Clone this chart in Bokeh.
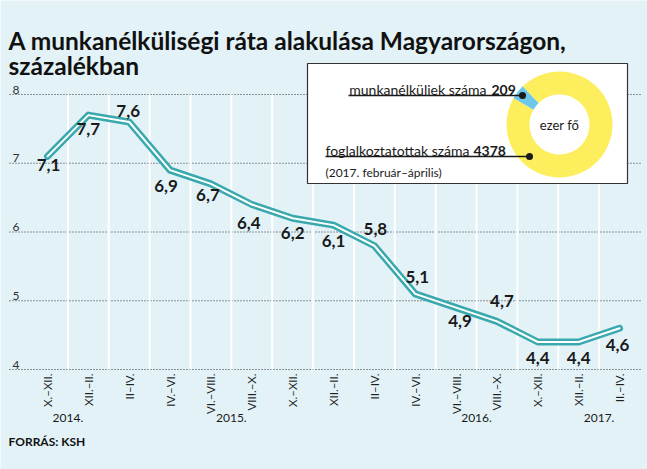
import math
from bokeh.plotting import figure
from bokeh.models import Range1d, ColumnDataSource
from bokeh.core.properties import value
from bokeh.embed import file_html
from bokeh.resources import INLINE

# ---------------- data ----------------
periods = ["X.–XII.", "XII.–II.", "II–IV.", "IV.–VI.", "VI.–VIII.", "VIII.–X.", "X.–XII.",
           "XII.–II.", "II–IV.", "IV.–VI.", "VI.–VIII.", "VIII.–X.", "X.–XII.", "XII.–II.", "II.–IV."]
rates = [7.1, 7.7, 7.6, 6.9, 6.7, 6.4, 6.2, 6.1, 5.8, 5.1, 4.9, 4.7, 4.4, 4.4, 4.6]
years = ["2014.", "2015.", "2016.", "2017."]
year_pos = [0.5, 4.5, 10.5, 13.5]
y_ticks = [4, 5, 6, 7, 8]
donut_labels = ["munkanélküliek száma", "foglalkoztatottak száma"]
donut_values = [209, 4378]

# ---------------- styles ----------------
BG = "#e2f2f7"
TEAL = "#3aa9ae"
DARK = "#1a1a1a"
COND = "Lato"
SANS = "Lato"
DONUT_COLORS = ["#6ec6e8", "#fcee5c"]
# label offsets (screen px) for the value labels
LBL_DX = [1, 0, -1, -4, -3, -3, 0, 0, 1, 2, 4, 5, 0, 0, -2]
LBL_DY = [9, 14, -11, 16, 11, 18, 15, 16, -17, -17, 13, -20, 16, 16, 17]

W, H = 647, 469
X0, DXP = 47.0, 40.86      # pixel of first category, pixels per category
Y8, DYP = 94.0, 68.75      # pixel of value 8, pixels per unit


def dx(px):
    return (px - X0) / DXP


def dy(py):
    return 8 - (py - Y8) / DYP


p = figure(width=W, height=H, output_backend="svg", toolbar_location=None,
           x_range=Range1d(dx(0), dx(W)), y_range=Range1d(dy(H), dy(0)),
           min_border=0, background_fill_color=BG, border_fill_color=BG,
           outline_line_color=None)
p.axis.visible = False
p.grid.visible = False

n = len(periods)
xs = list(range(n))

# horizontal dotted gridlines
p.segment(x0=[dx(9)] * len(y_ticks), x1=[dx(641)] * len(y_ticks), y0=y_ticks, y1=y_ticks,
          line_color="#333333", line_width=1, line_dash="1 2")
p.text(x=[dx(12)] * len(y_ticks), y=y_ticks, text=[str(t) for t in y_ticks],
       text_font=value(SANS), text_font_size="12px", text_color="#333333",
       text_baseline="bottom", text_align="left", y_offset=-1)

# vertical white separators
sep = [i + 0.5 for i in range(n - 1)]
p.segment(x0=sep, x1=sep, y0=[min(y_ticks)] * len(sep), y1=[max(y_ticks)] * len(sep),
          line_color="white", line_width=2)

# main line (teal with white core)
p.line(xs, rates, line_color=TEAL, line_width=7, line_join="round", line_cap="round")
p.line(xs, rates, line_color="white", line_width=2, line_join="round", line_cap="round")

# value labels
src = ColumnDataSource(dict(x=xs, y=rates, t=[f"{v:.1f}".replace(".", ",") for v in rates],
                            ox=LBL_DX, oy=LBL_DY))
p.text(x="x", y="y", text="t", x_offset="ox", y_offset="oy", source=src,
       text_font=value(COND), text_font_style="bold", text_font_size="17px",
       text_color=DARK, text_align="center", text_baseline="middle")

# category labels (rotated)
p.text(x=xs, y=[dy(373)] * n, text=periods, angle=math.pi / 2,
       text_font=value(COND), text_font_size="11.5px", text_color=DARK,
       text_align="right", text_baseline="middle")
p.text(x=year_pos, y=[dy(417)] * len(years), text=years,
       text_font=value(COND), text_font_size="12px", text_color=DARK,
       text_align="center", text_baseline="middle")

# legend box with donut
p.quad(left=[dx(307)], right=[dx(627)], top=[dy(63)], bottom=[dy(183)],
       fill_color="white", line_color="#333333", line_width=1.2)
total = sum(donut_values)
start = math.radians(134)
starts, ends = [], []
a = start
for v in donut_values:
    starts.append(a)
    a += 2 * math.pi * v / total
    ends.append(a)
cx, cy = dx(559), dy(124)
p.annular_wedge(x=[cx] * 2, y=[cy] * 2, inner_radius=30, outer_radius=53,
                inner_radius_units="screen", outer_radius_units="screen",
                start_angle=starts, end_angle=ends, fill_color=DONUT_COLORS, line_color=None)
p.text(x=[cx], y=[cy], text=["ezer fő"], text_font=value(SANS), text_font_size="13px",
       text_color=DARK, text_align="center", text_baseline="middle")

# leader lines
p.segment(x0=[dx(348), dx(325)], x1=[dx(522), dx(529)], y0=[dy(95), dy(156)],
          y1=[dy(95), dy(156)], line_color=DARK, line_width=1.3)
p.scatter(x=[dx(522), dx(529)], y=[dy(95), dy(156)], size=7, fill_color=DARK, line_color=None)
p.text(x=[dx(486), dx(469)], y=[dy(89), dy(150)], text=donut_labels,
       text_font=value(SANS), text_font_size="14px", text_color=DARK,
       text_align="right", text_baseline="alphabetic")
p.text(x=[dx(491), dx(473)], y=[dy(89), dy(150)], text=[str(v) for v in donut_values],
       text_font=value(SANS), text_font_style="bold", text_font_size="14px", text_color=DARK,
       text_align="left", text_baseline="alphabetic")
p.text(x=[dx(325)], y=[dy(172)], text=["(2017. február–április)"],
       text_font=value(SANS), text_font_size="12px", text_color=DARK,
       text_align="left", text_baseline="middle")

# title and source
p.text(x=[dx(8)], y=[dy(40)], text=["A munkanélküliségi ráta alakulása Magyarországon,"],
       text_font=value(COND), text_font_style="bold", text_font_size="24.5px",
       text_color="#111111", text_align="left", text_baseline="alphabetic")
p.text(x=[dx(8)], y=[dy(65)], text=["százalékban"],
       text_font=value(COND), text_font_style="bold", text_font_size="24.5px",
       text_color="#111111", text_align="left", text_baseline="alphabetic")
p.text(x=[dx(8)], y=[dy(441)], text=["FORRÁS: KSH"],
       text_font=value(COND), text_font_style="bold", text_font_size="12px",
       text_color="#111111", text_align="left", text_baseline="middle")

open("out.html", "w").write(file_html(p, INLINE))
